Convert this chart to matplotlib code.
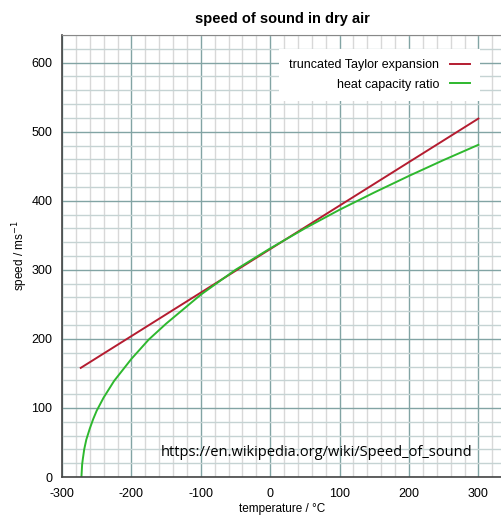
import matplotlib
matplotlib.use('Agg')
import matplotlib.pyplot as plt
import matplotlib.ticker as ticker

plt.rcParams.update({
    'font.family': 'Liberation Sans',
    'font.size': 9,
    'axes.unicode_minus': False,
})

# dados
taylor_t = [-273, 300]
taylor_v = [158, 519]

gamma_t = [-272, -271, -270, -268, -265, -260, -255, -250, -240, -225, -200,
           -175, -150, -100, -50, 0, 50, 100, 150, 200, 250, 300]
gamma_v = [0, 18, 26, 40, 54, 70, 84, 96, 115, 139, 171,
           199, 222, 264, 300, 331, 360, 387, 412, 436, 459, 481]

x_ticks = [-300, -200, -100, 0, 100, 200, 300]
y_ticks = [0, 100, 200, 300, 400, 500, 600]

COR_TAYLOR = '#b41c30'
COR_GAMMA = '#2eb82e'

W, H = 502, 516
fig = plt.figure(figsize=(W / 100, H / 100), dpi=100)
ax = fig.add_axes([62 / W, 1 - 477 / H, 1 - 62 / W, (477 - 35) / H])

ax.set_xlim(-300, 334)
ax.set_ylim(0, 640)

ax.xaxis.set_major_locator(ticker.FixedLocator(x_ticks))
ax.yaxis.set_major_locator(ticker.FixedLocator(y_ticks))
ax.xaxis.set_minor_locator(ticker.MultipleLocator(20))
ax.yaxis.set_minor_locator(ticker.MultipleLocator(20))

ax.grid(which='major', axis='both', color='#82a4a4', linewidth=1.0)
ax.grid(which='minor', axis='x', color='#d8d8d8', linewidth=1.0)
ax.grid(which='minor', axis='y', color='#c5d3d3', linewidth=1.0)
ax.set_axisbelow(True)

ax.tick_params(which='both', length=0)
ax.tick_params(axis='x', pad=8, labelsize=9)
ax.tick_params(axis='y', pad=7, labelsize=9)

for s in ['left', 'bottom']:
    ax.spines[s].set_color('#444444')
    ax.spines[s].set_linewidth(1.2)
ax.spines['top'].set_color('#888888')
ax.spines['right'].set_visible(False)

ax.plot(taylor_t, taylor_v, color=COR_TAYLOR, linewidth=1.4,
        label='truncated Taylor expansion')
ax.plot(gamma_t, gamma_v, color=COR_GAMMA, linewidth=1.4,
        label='heat capacity ratio')

leg = ax.legend(loc='upper right', bbox_to_anchor=(0.965, 0.982),
                markerfirst=False, frameon=True, fancybox=False,
                framealpha=1, edgecolor='none', facecolor='white',
                handlelength=1.6, handletextpad=0.9, labelspacing=0.6,
                fontsize=9, borderpad=0.8)

ax.set_title('speed of sound in dry air', fontweight='bold', fontsize=10.5, pad=9)
ax.set_xlabel('temperature / °C', fontsize=8.5, labelpad=2)
ax.set_ylabel('speed / ms$^{-1}$', fontsize=8.5)
ax.yaxis.set_label_coords((30 - 62) / 440, 0.5)

# marca d'água com o link da fonte (posição em pixels da figura)
fig.text(317 / W, 1 - 452 / H, 'https://en.wikipedia.org/wiki/Speed_of_sound',
         ha='center', va='center', family='Open Sans', fontsize=10.5, color='black')

fig.savefig('out.png', dpi=100)
